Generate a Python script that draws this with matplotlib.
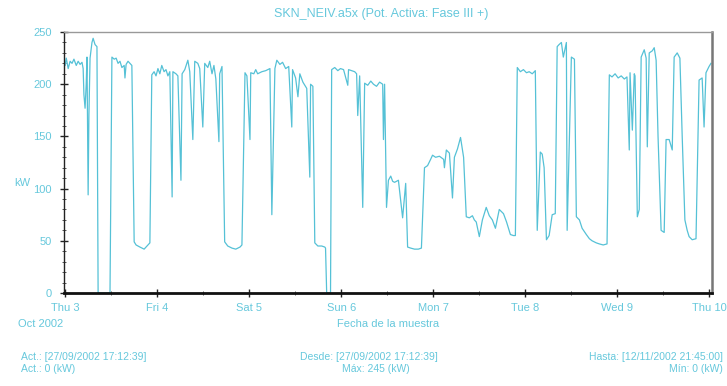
import numpy as np
from matplotlib import pyplot as plt
from matplotlib.ticker import MultipleLocator

# Hours since Thu 3 Oct 2002 00:00 and active power (kW)
hours = [0.0, 0.3, 0.8, 1.3, 1.8, 2.3, 2.9, 3.4, 3.9, 4.4, 4.7, 4.9, 5.2, 5.5, 5.7, 6.0, 6.2, 6.5,
         7.0, 7.3, 7.8, 8.3, 8.6, 11.7, 12.2, 12.8, 13.3, 13.8, 14.3, 14.8, 15.4, 15.6, 15.9, 16.4,
         16.9, 17.4, 18.0, 18.5, 19.5, 20.6, 21.1, 21.6, 22.1, 22.6,
         23.2, 23.7, 24.2, 24.7, 25.2, 25.8, 26.3, 26.8, 27.3, 27.9, 28.1, 28.9, 29.4, 30.2, 30.5,
         31.2, 32.0, 32.5, 33.3, 33.8, 34.6, 35.1, 35.9, 36.4, 37.2, 37.7, 38.3, 38.8, 39.3, 40.1,
         40.3, 40.9, 41.6, 42.4, 43.5, 44.5, 45.6, 46.1, 46.9,
         47.4, 48.2, 48.4, 49.2, 49.7, 50.2, 51.3, 52.3, 53.4, 53.9, 54.7, 55.2, 56.0, 56.7, 57.5,
         58.3, 59.1, 59.3, 60.1, 60.7, 61.2, 62.0, 63.0, 63.8, 64.0, 64.6, 65.1, 65.9, 66.9, 67.7,
         67.9, 68.2, 69.2, 69.5,
         70.3, 71.1, 71.8, 72.6, 73.7, 73.9, 74.7, 75.5, 76.0, 76.3, 76.8, 77.6, 78.1, 78.9, 79.7,
         80.4, 81.2, 82.0, 82.8, 83.0, 83.3, 83.8, 84.3, 84.9, 85.4, 85.9, 86.9, 88.0, 88.8, 89.3,
         90.1, 91.1, 92.1, 92.9, 93.7,
         94.5, 95.3, 95.8, 96.6, 97.6, 98.7, 98.9, 99.4, 100.2, 101.0, 101.5, 102.3, 103.1, 103.9,
         104.6, 105.4, 106.2, 106.7, 107.2, 108.0, 108.8, 109.8, 110.6, 111.4, 112.2, 113.2, 114.3,
         115.1, 116.1, 116.9, 117.4, 117.9,
         118.7, 119.5, 120.3, 121.0, 121.8, 122.6, 123.1, 123.9, 124.4, 124.9, 125.5, 126.2, 127.0,
         127.8, 128.3, 128.8, 129.4, 129.9, 130.7, 130.9, 131.5, 132.0, 132.8, 133.3, 134.1, 134.8,
         135.9, 136.7, 137.4, 138.5, 139.3, 140.3, 141.3, 141.9,
         142.6, 143.4, 144.2, 145.0, 145.8, 146.5, 147.1, 147.3, 147.9, 148.4, 148.6, 149.2, 149.7,
         150.2, 151.0, 151.5, 151.8, 152.3, 153.1, 153.6, 154.1, 154.6, 155.4, 156.2, 156.7, 157.5,
         158.3, 158.8, 159.6, 160.3, 160.9, 161.6, 162.2, 162.7, 163.5, 164.5, 165.3, 166.1, 166.6,
         167.1, 167.9, 168.4]

kw = [218, 225, 215, 222, 220, 224, 218, 222, 219, 221, 215, 190, 177, 200, 226, 94, 170, 225,
      240, 244, 238, 236, 0, 0, 226, 224, 225, 220, 222, 216, 218, 206, 219, 222,
      220, 218, 49, 46, 44, 42, 44, 46, 48, 209,
      212, 208, 215, 210, 218, 212, 214, 208, 212, 92, 212, 210, 208, 108, 210,
      214, 223, 212, 147, 222, 220, 215, 159, 220, 216, 222, 210, 218, 205, 145,
      210, 217, 49, 45, 43, 42, 44, 46, 211,
      208, 147, 211, 210, 214, 210, 212, 213, 215, 75, 215, 223, 219, 221, 215,
      217, 159, 214, 206, 188, 210, 202, 196, 111, 200, 198, 48, 45, 45, 44,
      43, 0, 0, 214,
      216, 213, 215, 214, 199, 214, 213, 212, 210, 170, 208, 82, 201, 199, 203,
      200, 198, 202, 200, 147, 200, 82, 108, 112, 107, 106, 108, 72, 105, 44,
      43, 42, 42, 43, 120,
      122, 128, 132, 130, 131, 128, 120, 137, 134, 91, 130, 138, 149, 130,
      73, 72, 74, 70, 68, 54, 70, 82, 74, 70, 62, 80, 76,
      68, 56, 55, 55, 216,
      212, 214, 211, 212, 210, 213, 60, 135, 133, 120, 51, 55, 75,
      76, 236, 238, 240, 226, 240, 60, 150, 226, 224, 73, 70, 62,
      56, 52, 50, 48, 47, 46, 47, 209,
      207, 210, 206, 208, 205, 207, 137, 211, 156, 210, 208, 73, 80,
      226, 233, 225, 140, 230, 232, 235, 223, 150, 60, 58, 147, 147,
      137, 226, 230, 225, 150, 70, 60, 54, 51, 52, 204, 206, 159,
      211, 217, 220]

day_labels = ['Thu 3', 'Fri 4', 'Sat 5', 'Sun 6', 'Mon 7', 'Tue 8', 'Wed 9', 'Thu 10']

line_color = '#55c1d6'
text_color = '#66c8dc'

plt.rcParams['font.family'] = ['Liberation Sans', 'DejaVu Sans']

fig = plt.figure(figsize=(7.27, 3.86), dpi=100)
ax = fig.add_axes([0.088, 0.241, 0.891, 0.676])

ax.plot(hours, kw, color=line_color, lw=0.9)

# Axes limits and ticks
ax.set_xlim(-0.3, 168.6)
ax.set_ylim(0, 250)
ax.set_xticks(np.arange(0, 169, 24))
ax.set_xticklabels(day_labels)
ax.xaxis.set_minor_locator(MultipleLocator(12))
ax.yaxis.set_major_locator(MultipleLocator(50))
ax.yaxis.set_minor_locator(MultipleLocator(10))
ax.tick_params(axis='both', which='major', direction='inout', length=6, width=1,
               colors='#222222', labelcolor=text_color, labelsize=8)
ax.tick_params(axis='both', which='minor', direction='inout', length=3, width=0.7,
               colors='#555555')
ax.tick_params(axis='y', pad=6)
ax.tick_params(axis='x', pad=4)

# Spines
ax.spines['bottom'].set_color('#111111')
ax.spines['bottom'].set_linewidth(2)
ax.spines['left'].set_color('#222222')
ax.spines['left'].set_linewidth(1)
ax.spines['top'].set_color('#999999')
ax.spines['top'].set_linewidth(1)
ax.spines['right'].set_color('#777777')
ax.spines['right'].set_linewidth(1.8)

# Labels
fig.text(381/727, 1 - 14/386, 'SKN_NEIV.a5x (Pot. Activa: Fase III +)', color=text_color,
         fontsize=9, ha='center', va='center')
fig.text(22/727, 1 - 183/386, 'kW', color=text_color, fontsize=8, ha='center', va='center')
fig.text(63/727, 1 - 324/386, 'Oct 2002', color=text_color, fontsize=8, ha='right', va='center')
fig.text(388/727, 1 - 324/386, 'Fecha de la muestra', color=text_color, fontsize=8,
         ha='center', va='center')

# Footer info
fig.text(21/727, 1 - 357/386, 'Act.: [27/09/2002 17:12:39]', color=text_color, fontsize=7.5,
         ha='left', va='center')
fig.text(21/727, 1 - 369/386, 'Act.: 0 (kW)', color=text_color, fontsize=7.5,
         ha='left', va='center')
fig.text(300/727, 1 - 357/386, 'Desde: [27/09/2002 17:12:39]', color=text_color, fontsize=7.5,
         ha='left', va='center')
fig.text(410/727, 1 - 369/386, 'Máx: 245 (kW)', color=text_color, fontsize=7.5,
         ha='right', va='center')
fig.text(723/727, 1 - 357/386, 'Hasta: [12/11/2002 21:45:00]', color=text_color, fontsize=7.5,
         ha='right', va='center')
fig.text(723/727, 1 - 369/386, 'Mín: 0 (kW)', color=text_color, fontsize=7.5,
         ha='right', va='center')

plt.savefig('out.png', dpi=100, facecolor='white')
plt.close()
